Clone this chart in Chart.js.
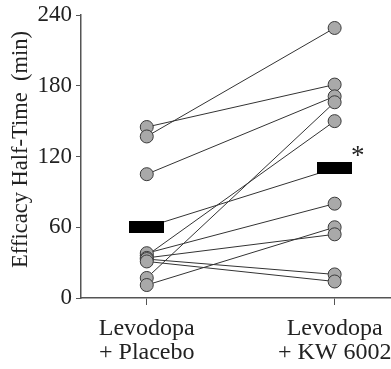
<!DOCTYPE html>
<html>
<head>
<meta charset="utf-8">
<script src="https://cdn.jsdelivr.net/npm/chart.js@4/dist/chart.umd.min.js"></script>
<style>
  html, body { margin: 0; padding: 0; background: #fff; }
  #wrap { width: 391px; height: 369px; }
</style>
</head>
<body>
<div id="wrap"><canvas id="chart" width="391" height="369"></canvas></div>
<script>
// paired efficacy half-time data (min), one entry per subject
const categories = [["Levodopa", "+ Placebo"], ["Levodopa", "+ KW 6002"]];
const placebo = [145, 137, 105, 17, 36, 38, 11, 34, 33, 31];
const kw6002  = [181, 229, 171, 166, 150, 80, 60, 54, 20, 14];
const means   = [60, 110];
const yTicks  = [0, 60, 120, 180, 240];
const yTitle  = "Efficacy Half-Time  (min)";

const SERIF = "'Liberation Serif', 'Times New Roman', serif";
const AXIS = "#555";

// black mean bar drawn as an image point style
function meanBar() {
  const c = document.createElement("canvas");
  c.width = 35; c.height = 12;
  const g = c.getContext("2d");
  g.fillStyle = "#000";
  g.fillRect(0, 0, 35, 12);
  return c;
}

// ─── Datasets ────────────────────────────────────────────────────────────────
const lineSets = placebo.map((v, i) => ({
  data: [{ x: 1, y: v }, { x: 2, y: kw6002[i] }],
  showLine: true,
  borderColor: "#333",
  borderWidth: 1,
  pointRadius: 0,
  order: 3,
}));

const meanLine = {
  data: means.map((m, i) => ({ x: i + 1, y: m })),
  showLine: true,
  borderColor: "#333",
  borderWidth: 1,
  pointStyle: meanBar(),
  pointRadius: 6,
  order: 2,
};

const dots = {
  data: [
    ...placebo.map(v => ({ x: 1, y: v })),
    ...kw6002.map(v => ({ x: 2, y: v })),
  ],
  pointRadius: 6.5,
  pointBackgroundColor: "#a9a9a9",
  pointBorderColor: "#3a3a3a",
  pointBorderWidth: 1,
  order: 1,
};

// asterisk next to the KW 6002 mean + rotated y title
const extras = {
  id: "extras",
  afterDraw(chart) {
    const { ctx, scales, chartArea } = chart;
    const x = scales.x.getPixelForValue(2) + 23;
    const y = scales.y.getPixelForValue(means[1]) - 11;
    ctx.save();
    ctx.fillStyle = "#222";
    ctx.font = "27px " + SERIF;
    ctx.textAlign = "center";
    ctx.textBaseline = "middle";
    ctx.fillText("*", x, y);

    ctx.translate(21, (chartArea.top + chartArea.bottom) / 2 - 7);
    ctx.rotate(-Math.PI / 2);
    ctx.font = "22.5px " + SERIF;
    ctx.fillText(yTitle, 0, 0);
    ctx.restore();
  }
};

new Chart(document.getElementById("chart"), {
  type: "scatter",
  data: { datasets: [...lineSets, meanLine, dots] },
  plugins: [extras],
  options: {
    responsive: false,
    animation: false,
    events: [],
    clip: false,
    layout: { autoPadding: false, padding: { top: 15, right: 0, left: 0, bottom: 0 } },
    plugins: { legend: { display: false }, tooltip: { enabled: false } },
    scales: {
      x: {
        type: "linear",
        min: 0.65,
        max: 2.3,
        afterBuildTicks: s => { s.ticks = [{ value: 1 }, { value: 2 }]; },
        afterFit: s => { s.height = 71; s.paddingLeft = 0; s.paddingRight = 0; },
        border: { display: true, color: AXIS, width: 1.5 },
        grid: { drawOnChartArea: false, drawTicks: true, tickLength: 7, color: AXIS },
        ticks: {
          callback: v => categories[v - 1],
          color: "#222",
          font: { family: SERIF, size: 24, lineHeight: 1.0 },
          padding: 12,
          maxRotation: 0,
          autoSkip: false,
        },
      },
      y: {
        min: 0,
        max: 240,
        afterBuildTicks: s => { s.ticks = yTicks.map(v => ({ value: v })); },
        afterFit: s => { s.width = 81; s.paddingTop = 0; s.paddingBottom = 0; },
        border: { display: true, color: AXIS, width: 1.5 },
        grid: { drawOnChartArea: false, drawTicks: true, tickLength: 5, color: AXIS },
        ticks: {
          color: "#222",
          font: { family: SERIF, size: 23 },
          padding: 4,
        },
      },
    },
  },
});
</script>
</body>
</html>
